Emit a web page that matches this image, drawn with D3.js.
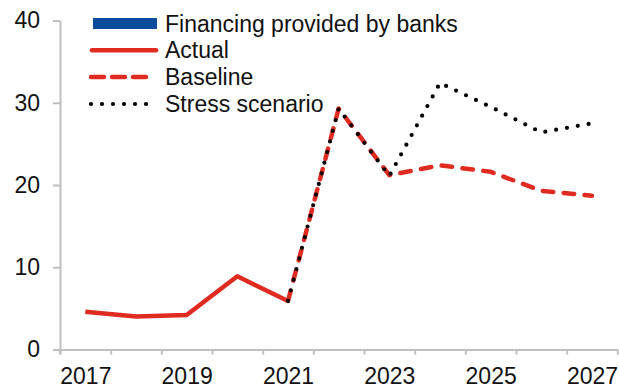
<!DOCTYPE html>
<html>
<head>
<meta charset="utf-8">
<script src="https://cdn.jsdelivr.net/npm/d3@7"></script>
<style>
  html, body { margin: 0; padding: 0; background: #fff; }
  svg { display: block; }
  text { font-family: "Liberation Sans", Arial, sans-serif; fill: #111; }
</style>
</head>
<body>
<svg id="chart" width="619" height="391"></svg>
<script>
// Years on the horizontal axis
const years = [2017, 2018, 2019, 2020, 2021, 2022, 2023, 2024, 2025, 2026, 2027];
const yearLabels = [2017, 2019, 2021, 2023, 2025, 2027];
const yTicks = [0, 10, 20, 30, 40];

// Outturn up to 2021
const actualYears = [2017, 2018, 2019, 2020, 2021];
const actualValues = [4.6, 4.0, 4.2, 8.9, 5.9];

// Projection paths from 2021
const projYears = [2021, 2022, 2023, 2024, 2025, 2026, 2027];
const baselineValues = [5.9, 29.3, 21.2, 22.4, 21.6, 19.3, 18.7];
const stressValues = [5.9, 29.3, 21.1, 32.4, 29.5, 26.4, 27.5];

const legendItems = [
  { label: "Financing provided by banks", kind: "bar" },
  { label: "Actual", kind: "solid" },
  { label: "Baseline", kind: "dash" },
  { label: "Stress scenario", kind: "dot" }
];

const RED = "#e02b20";
const BLUE = "#0a4c9b";
const AXIS = "#bfbfbf";

const svg = d3.select("#chart");

const x = d3.scaleLinear().domain([2016.5, 2027.5]).range([60, 617.3]);
const y = d3.scaleLinear().domain([0, 40]).range([349.5, 20.5]);

// Y axis
const yAxis = svg.append("g")
  .attr("transform", `translate(${x(2016.5)},0)`)
  .call(d3.axisLeft(y).tickValues(yTicks).tickSize(7).tickPadding(13).tickSizeOuter(0));

// X axis: ticks between categories, labels on every other year
const xAxis = svg.append("g")
  .attr("transform", `translate(0,${y(0)})`)
  .call(d3.axisBottom(x).tickValues(d3.range(2016.5, 2028, 1)).tickSize(5).tickFormat("").tickSizeOuter(0));
const xLabels = svg.append("g")
  .attr("transform", `translate(0,${y(0)})`)
  .call(d3.axisBottom(x).tickValues(yearLabels).tickSize(0).tickPadding(18).tickFormat(d3.format("d")));
xLabels.select(".domain").remove();

[yAxis, xAxis].forEach(g => {
  g.selectAll(".domain, .tick line").attr("stroke", AXIS).attr("stroke-width", 2);
});
svg.selectAll(".tick text")
  .attr("font-size", 23)
  .attr("font-family", "'Liberation Sans', Arial, sans-serif")
  .attr("fill", "#111");
// extend y-axis line slightly below x-axis
svg.append("line")
  .attr("x1", x(2016.5)).attr("x2", x(2016.5))
  .attr("y1", y(0)).attr("y2", y(0) + 5)
  .attr("stroke", AXIS).attr("stroke-width", 2);

const line = d3.line().x(d => x(d[0])).y(d => y(d[1]));

svg.append("path")
  .datum(d3.zip(actualYears, actualValues))
  .attr("d", line)
  .attr("fill", "none").attr("stroke", RED).attr("stroke-width", 4.5)
  .attr("stroke-linejoin", "round");

svg.append("path")
  .datum(d3.zip(projYears, baselineValues))
  .attr("d", line)
  .attr("fill", "none").attr("stroke", RED).attr("stroke-width", 4.5)
  .attr("stroke-dasharray", "10.5,10.5").attr("stroke-linecap", "round")
  .attr("stroke-linejoin", "round");

svg.append("path")
  .datum(d3.zip(projYears, stressValues))
  .attr("d", line)
  .attr("fill", "none").attr("stroke", "#000").attr("stroke-width", 4.2)
  .attr("stroke-dasharray", "0,11").attr("stroke-linecap", "round")
  .attr("stroke-linejoin", "round");

// Legend
const legend = svg.append("g");
const rowY = [23.5, 50.3, 77, 104];
legendItems.forEach((item, i) => {
  const g = legend.append("g").attr("transform", `translate(0,${rowY[i]})`);
  if (item.kind === "bar") {
    g.append("rect").attr("x", 93).attr("y", -5.5).attr("width", 64).attr("height", 11).attr("fill", BLUE);
  } else if (item.kind === "solid") {
    g.append("line").attr("x1", 92).attr("x2", 156).attr("stroke", RED).attr("stroke-width", 4.5).attr("stroke-linecap", "round");
  } else if (item.kind === "dash") {
    g.append("line").attr("x1", 91).attr("x2", 150).attr("stroke", RED).attr("stroke-width", 4.5)
      .attr("stroke-dasharray", "13,8").attr("stroke-linecap", "round");
  } else {
    g.append("line").attr("x1", 91).attr("x2", 147).attr("stroke", "#000").attr("stroke-width", 4.2)
      .attr("stroke-dasharray", "0,11").attr("stroke-linecap", "round");
  }
  g.append("text").attr("x", 165).attr("y", 8).attr("font-size", 23).text(item.label);
});
</script>
</body>
</html>
